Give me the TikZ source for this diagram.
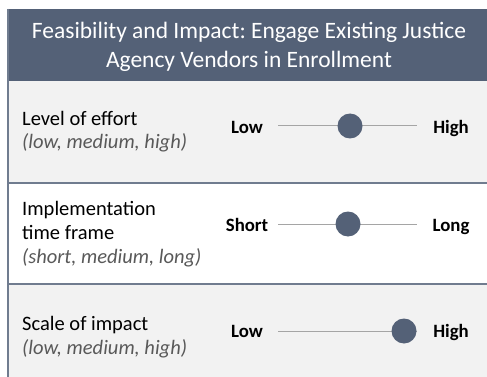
\documentclass[tikz,border=0pt]{standalone}
\usepackage{fontspec}
\setmainfont{Carlito}
\usepackage{tikz}
\usetikzlibrary{positioning}
\frenchspacing
\definecolor{slate}{RGB}{84,97,119}
\definecolor{rowgray}{RGB}{242,242,242}
\definecolor{railgray}{RGB}{165,165,165}
\definecolor{notegray}{RGB}{89,89,89}
\definecolor{rulegray}{RGB}{112,124,143}
\tikzstyle{title} = [text=white, font=\fontsize{23.5}{29}\selectfont, align=center, inner sep=0pt]
\tikzstyle{crit} = [anchor=base west, font=\fontsize{20.5}{24}\selectfont, align=left, inner sep=0pt]
\tikzstyle{ends} = [anchor=base, font=\bfseries\fontsize{18.8}{22}\selectfont, inner sep=0pt]
\tikzstyle{knob} = [circle, fill=slate, minimum size=25pt, inner sep=0pt]
\tikzstyle{rail} = [draw=railgray, line width=1pt]
\tikzstyle{sep} = [draw=rulegray, line width=2pt]

\begin{document}
\begin{tikzpicture}[x=1pt, y=-1pt]
\useasboundingbox (0,0) rectangle (487,377);
% bands
\fill[white] (0,0) rectangle (487,377);
\fill[slate] (7,9) rectangle (488,81);
\fill[rowgray] (7,81) rectangle (488,183);
\fill[rowgray] (7,284) rectangle (488,378);
\draw[sep] (7,183) -- (488,183);
\draw[sep] (7,284) -- (488,284);
\draw[sep] (7.5,9) -- (7.5,378);
% heading
\node(head)[title] at (249,47) {Feasibility and Impact: Engage Existing Justice\\Agency Vendors in Enrollment};
% criteria
\node(effort)[crit] at (22,149) {Level of effort\\{\itshape\color{notegray}(low, medium, high)}};
\node(time)[crit] at (22,263) {Implementation\\time frame\\{\itshape\color{notegray}(short, medium, long)}};
\node(scale)[crit] at (22,354) {Scale of impact\\{\itshape\color{notegray}(low, medium, high)}};
% sliders
\node(lo1)[ends] at (247,133) {Low};
\node(hi1)[ends] at (451,133) {High};
\coordinate(a1) at (278,126);
\coordinate(b1) at (417,126);
\draw[rail](a1)--(b1);
\node(k1)[knob] at (350,126) {};

\node(lo2)[ends] at (247,231) {Short};
\node(hi2)[ends] at (451,231) {Long};
\coordinate(a2) at (278,224);
\coordinate(b2) at (417,224);
\draw[rail](a2)--(b2);
\node(k2)[knob] at (348,224) {};

\node(lo3)[ends] at (247,337) {Low};
\node(hi3)[ends] at (451,337) {High};
\coordinate(a3) at (278,331);
\coordinate(b3) at (417,331);
\draw[rail](a3)--(b3);
\node(k3)[knob] at (404,331) {};
\end{tikzpicture}
\end{document}
